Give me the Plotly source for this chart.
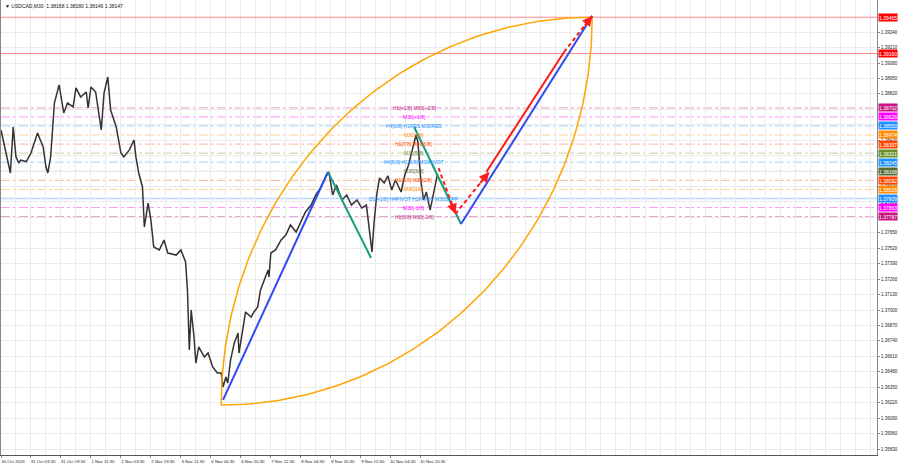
import numpy as np
import plotly.graph_objects as go

# ---------------- data (bar index on M30, price) ----------------
PRICE_BARS = [0, 3, 7, 10, 13, 16, 19, 21, 27, 32, 39, 45, 48, 50, 53, 57, 62, 67, 71, 77,
              80, 85, 91, 93, 96, 101, 107, 110, 114, 117, 123, 128, 131, 137, 142, 144, 147, 151, 153, 157,
              160, 163, 169, 174, 178, 187, 192, 197, 199, 201, 203, 206, 208, 211, 217, 221, 226, 231, 235, 237,
              240, 242, 245, 249, 253, 254, 258, 261, 267, 270, 274, 277, 281, 285, 286, 288, 293, 299, 304, 309,
              315, 320, 325, 331, 336, 341, 347, 350, 354, 358, 364, 369, 374, 380, 385, 390, 394, 396, 398, 401,
              404, 409, 413, 417, 421, 427, 431, 435, 439, 443, 445, 448, 451, 454, 458, 461, 464, 466]
PRICE_VALUES = [1.38516, 1.38407, 1.38263, 1.38154, 1.38541, 1.38289, 1.38238, 1.38263, 1.38250, 1.38322,
                1.38491, 1.38373, 1.38204, 1.38154, 1.38289, 1.38743, 1.38895, 1.38659, 1.38743, 1.38710,
                1.38870, 1.38794, 1.38836, 1.38701, 1.38878, 1.38836, 1.38516, 1.38828, 1.38962, 1.38684,
                1.38541, 1.38322, 1.38289, 1.38348, 1.38432, 1.38289, 1.38154, 1.38036, 1.37699, 1.37901,
                1.37758, 1.37531, 1.37506, 1.37590, 1.37480, 1.37463, 1.37506, 1.37405, 1.37169, 1.36664,
                1.37000, 1.36773, 1.36554, 1.36689, 1.36605, 1.36638, 1.36520, 1.36470, 1.36470, 1.36352,
                1.36436, 1.36386, 1.36579, 1.36723, 1.36807, 1.36638, 1.36832, 1.36984, 1.36941, 1.36984,
                1.37026, 1.37169, 1.37253, 1.37337, 1.37278, 1.37480, 1.37506, 1.37590, 1.37632, 1.37716,
                1.37657, 1.37741, 1.37826, 1.37884, 1.37969, 1.38028, 1.38129, 1.38162, 1.37969, 1.38053,
                1.37927, 1.37969, 1.37884, 1.37927, 1.37859, 1.37884, 1.37632, 1.37489, 1.37716, 1.37969,
                1.38112, 1.38070, 1.38129, 1.38011, 1.38095, 1.37994, 1.38137, 1.38221, 1.38348, 1.38474,
                1.38415, 1.38095, 1.37927, 1.37994, 1.37842, 1.37969, 1.38078, 1.38147]

TIME_TICK_BARS = [0, 32, 64, 96, 128, 160, 192, 224, 256, 288, 320, 352, 384, 416, 448]
TIME_LABELS = ["30 Oct 2023", "31 Oct 03:30", "31 Oct 19:30", "1 Nov 11:30", "2 Nov 03:30",
               "2 Nov 19:30", "3 Nov 11:30", "6 Nov 04:30", "6 Nov 20:30", "7 Nov 12:30",
               "8 Nov 04:30", "8 Nov 20:30", "9 Nov 12:30", "10 Nov 04:30", "10 Nov 20:30"]

PRICE_TICKS = [round(1.3583 + 0.0013 * k, 5) for k in range(0, 28)]

LEVEL_PRICES = [1.38702, 1.38626, 1.38550, 1.38474, 1.38397, 1.38321, 1.38245,
                1.38168, 1.38092, 1.38016, 1.37939, 1.37863, 1.37787]
LEVEL_COLORS = ["#C71585", "#FF00FF", "#1E90FF", "#FF8C00", "#FF4500", "#6B8E23", "#1E90FF",
                "#556B2F", "#FF4500", "#FF8C00", "#1E90FF", "#FF00FF", "#C71585"]
LEVEL_TEXTS = ["H1[+1/8] M30[+2/8]", "M30[+1/8]", "H4[6/8] H1RES M30RES", "M30[7/8]",
               "H1[7/8] M30[6/8]", "M30[5/8]", "H4[5/8] H1[6/8] M30PIVOT", "M30[3/8]",
               "H1[5/8] M30[2/8]", "M30[1/8]", "D1[+1/8] H4PIVOT H1PIVOT M30SUPP",
               "M30[-1/8]", "H1[3/8] M30[-2/8]"]

RED_LEVELS = [1.39465, 1.39160]

BLUE_1 = ([237, 349], [1.36243, 1.38162])
GREEN_1 = ([349, 395], [1.38162, 1.37438])
GREEN_2 = ([441, 491], [1.38541, 1.37724])
BLUE_2 = ([491, 631], [1.37724, 1.39476])
RED_DASH_A = ([467, 485], [1.38196, 1.37809])
RED_DASH_B = ([485, 521], [1.37809, 1.38162])
RED_SOLID = ([518, 601], [1.38162, 1.39173])
RED_DASH_C = ([601, 631], [1.39173, 1.39476])

ARC_START = (235, 1.36200)
ARC_END = (631, 1.39465)

X_RANGE = [0, 935]
Y_RANGE = [1.357795, 1.396104]

FONT = "Liberation Sans"

fig = go.Figure()

# horizontal level lines
for p, c in zip(LEVEL_PRICES, LEVEL_COLORS):
    solid = (p == 1.37939)
    fig.add_shape(type="line", xref="paper", x0=0, x1=1, y0=p, y1=p, layer="between",
                  line=dict(color=c, width=1.5 if solid else 1, dash="solid" if solid else "dashdot"),
                  opacity=0.3 if solid else 0.4)
# red horizontal lines spanning the axis range
for p in RED_LEVELS:
    fig.add_trace(go.Scatter(x=X_RANGE, y=[p, p], mode="lines",
                             line=dict(color="rgba(255,60,60,0.6)", width=1.2),
                             hoverinfo="skip"))

# price
fig.add_trace(go.Scatter(x=PRICE_BARS, y=PRICE_VALUES, mode="lines",
                         line=dict(color="#333333", width=1.5), hoverinfo="skip"))

# arcs (quarter ellipses between the two anchor points)
t = np.linspace(0, np.pi / 2, 120)
(xs, ys), (xe, ye) = ARC_START, ARC_END
fig.add_trace(go.Scatter(x=xe - (xe - xs) * np.cos(t), y=ys + (ye - ys) * np.sin(t), mode="lines",
                         line=dict(color="#FFA500", width=1.5), hoverinfo="skip"))
fig.add_trace(go.Scatter(x=xs + (xe - xs) * np.sin(t), y=ye - (ye - ys) * np.cos(t), mode="lines",
                         line=dict(color="#FFA500", width=1.5), hoverinfo="skip"))

# wave lines
for seg, col in [(BLUE_1, "#2E4BF0"), (GREEN_1, "#159F80"), (GREEN_2, "#159F80"), (BLUE_2, "#2E4BF0")]:
    fig.add_trace(go.Scatter(x=seg[0], y=seg[1], mode="lines", line=dict(color=col, width=2),
                             hoverinfo="skip"))
fig.add_trace(go.Scatter(x=RED_SOLID[0], y=RED_SOLID[1], mode="lines",
                         line=dict(color="#FF1A1A", width=2), hoverinfo="skip"))
for seg in [RED_DASH_A, RED_DASH_B, RED_DASH_C]:
    fig.add_trace(go.Scatter(x=seg[0], y=seg[1], mode="lines",
                             line=dict(color="#FF1A1A", width=2, dash="4px,3px"), hoverinfo="skip"))
    x0, x1 = seg[0]
    y0, y1 = seg[1]
    fig.add_annotation(x=x1, y=y1, ax=x1 - (x1 - x0) * 0.3, ay=y1 - (y1 - y0) * 0.3,
                       xref="x", yref="y", axref="x", ayref="y", text="", showarrow=True,
                       arrowhead=2, arrowsize=1, arrowwidth=2, arrowcolor="#FF1A1A", standoff=0)

# level text labels in the chart
for p, c, txt in zip(LEVEL_PRICES, LEVEL_COLORS, LEVEL_TEXTS):
    fig.add_annotation(x=441, y=p, xref="x", yref="y", text=txt, showarrow=False,
                       font=dict(family=FONT, size=5, color=c), xanchor="center", yanchor="middle")

# price boxes on the right axis
for p, c in zip(LEVEL_PRICES, LEVEL_COLORS):
    fig.add_annotation(x=1, y=p, xref="paper", yref="y", text=f"{p:.5f}", showarrow=False,
                       xanchor="left", yanchor="middle", xshift=1, bgcolor=c, borderpad=0,
                       height=7, font=dict(family=FONT, size=5, color="white"))
for p in RED_LEVELS:
    fig.add_annotation(x=1, y=p, xref="paper", yref="y", text=f"{p:.5f}", showarrow=False,
                       xanchor="left", yanchor="middle", xshift=1, bgcolor="#FF0000", borderpad=0,
                       height=7, font=dict(family=FONT, size=5, color="white"))

# title
fig.add_annotation(x=0, y=1, xref="paper", yref="paper", xanchor="left", yanchor="top",
                   xshift=2, yshift=-1, showarrow=False,
                   text="▼ USDCAD,M30  1.38168 1.38180 1.38146 1.38147",
                   font=dict(family=FONT, size=5, color="#111"))

fig.update_layout(
    width=900, height=468, margin=dict(l=1, r=23, t=0, b=13, autoexpand=False),
    paper_bgcolor="white", plot_bgcolor="white", showlegend=False,
    xaxis=dict(range=X_RANGE, tickvals=TIME_TICK_BARS, ticktext=TIME_LABELS, tickangle=0,
               automargin=False, ticklabeloverflow="allow",
               tickfont=dict(family=FONT, size=4.3, color="#222"), ticklabelshift=12,
               ticklabelstandoff=0, ticks="outside", ticklen=2, tickcolor="#888",
               showgrid=True, gridcolor="#EBEBEB", gridwidth=1,
               minor=dict(tick0=0, dtick=16, showgrid=True, gridcolor="#EBEBEB"),
               showline=True, linecolor="#555", mirror=True, zeroline=False, fixedrange=True),
    yaxis=dict(range=Y_RANGE, side="right", tickvals=PRICE_TICKS, tickformat=".5f",
               automargin=False,
               tickfont=dict(family=FONT, size=4.5, color="#222"), ticks="outside", ticklen=2,
               tickcolor="#888", showgrid=True, gridcolor="#EBEBEB", gridwidth=1,
               showline=True, linecolor="#888", mirror=True, zeroline=False, fixedrange=True),
)

fig.write_html("out.html", config={"displayModeBar": False},
               post_script="document.body.style.margin='0';document.body.style.overflow='hidden';")
